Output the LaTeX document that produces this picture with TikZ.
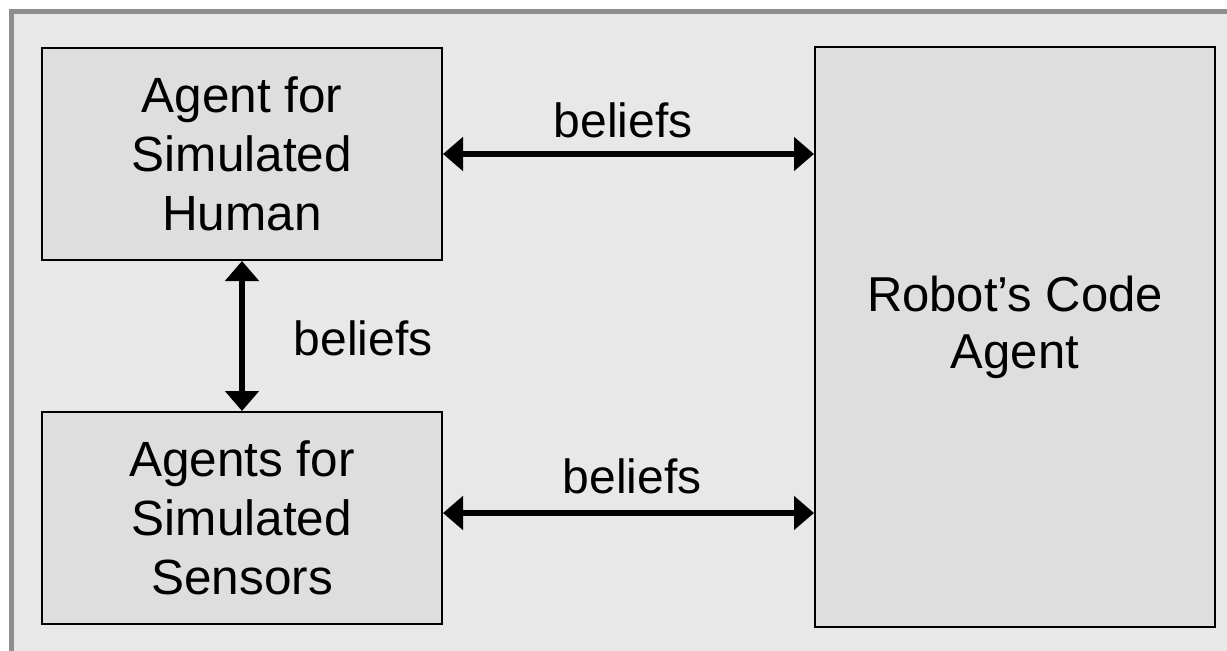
\documentclass[tikz,border=0pt]{standalone}
\usepackage{fontspec}
\setmainfont{Liberation Sans}
\usetikzlibrary{arrows.meta}
\definecolor{framegray}{HTML}{8E8E8E}
\definecolor{bggray}{HTML}{E8E8E8}
\definecolor{boxgray}{HTML}{DEDEDE}
\tikzset{
  agentbox/.style={draw=black, line width=2pt, fill=boxgray, rectangle, inner sep=0pt,
    minimum width=400pt, align=center, font=\fontsize{49.5}{59}\selectfont},
  beliefarrow/.style={line width=6pt, {Triangle[length=20pt,width=33pt]}-{Triangle[length=20pt,width=33pt]}},
  lbl/.style={font=\fontsize{48}{56}\selectfont, inner sep=0pt}
}
\begin{document}
\begin{tikzpicture}[x=1pt,y=-1pt]
\useasboundingbox (0,0) rectangle (1227,651);
\fill[white] (0,0) rectangle (1227,651);
\fill[framegray] (9,9) rectangle (1240,665);
\fill[bggray] (14,14) rectangle (1240,665);
\node[agentbox, minimum height=212pt] (h) at (242,154) {Agent for\\Simulated\\Human};
\node[agentbox, minimum height=212pt] (s) at (242,518) {Agents for\\Simulated\\Sensors};
\node[agentbox, minimum height=580pt] (r) at (1015,337) {};
\node[align=center, inner sep=0pt, font=\fontsize{49}{57}\selectfont] (rt) at ([yshift=10pt]r.center) {Robot’s Code\\Agent};
\draw[beliefarrow] (h.east) -- (h.east -| r.west);
\draw[beliefarrow] ([yshift=5pt]s.east) -- ([yshift=5pt]s.east -| r.west);
\draw[beliefarrow] (h.south) -- (s.north);
\node[lbl, anchor=base] (l1) at (623,137) {beliefs};
\node[lbl, anchor=base] (l2) at (632,493) {beliefs};
\node[lbl, anchor=base] (l3) at (363,355) {beliefs};
\end{tikzpicture}
\end{document}
